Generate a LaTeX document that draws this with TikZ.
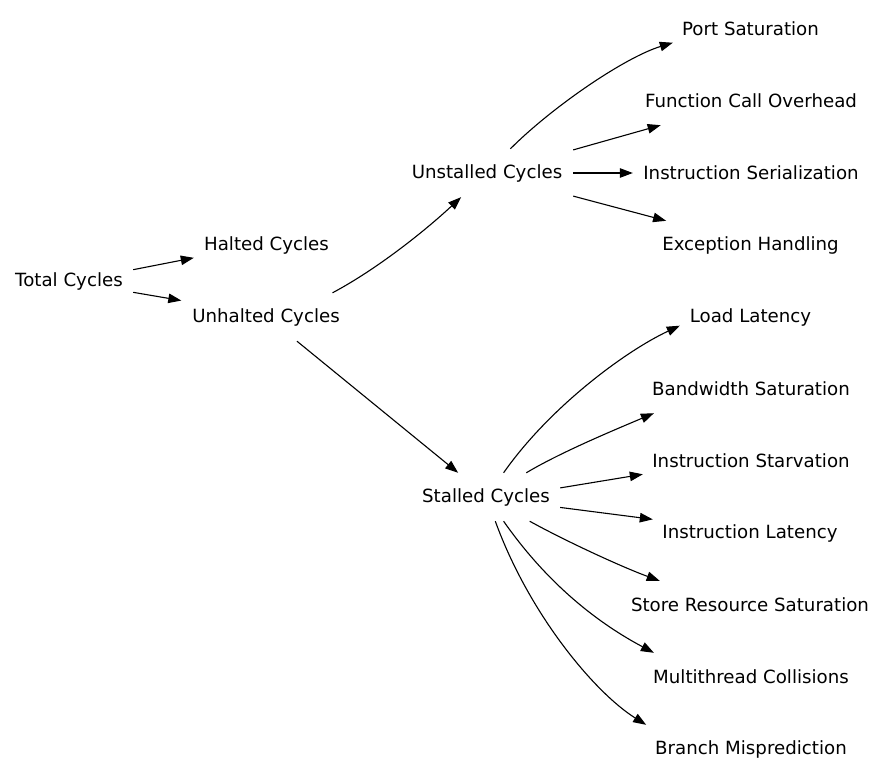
\documentclass[tikz,border=0pt]{standalone}
\usepackage{fontspec}
\setmainfont{DejaVu Sans}
\usetikzlibrary{arrows.meta}
\begin{document}
\begin{tikzpicture}[x=1pt,y=1pt,
  lbl/.style={inner sep=0pt, minimum height=48pt, font=\fontsize{18.2}{21}\selectfont,
    execute at begin node={\lower2pt\hbox\bgroup}, execute at end node={\egroup}},
  edge/.style={line width=1.1pt, -{Triangle[length=13pt,width=9.5pt]}}]
\useasboundingbox (0,0) rectangle (885,-779);
\node[lbl, minimum width=128] (tot) at (69,-281) {Total Cycles};
\node[lbl, minimum width=145] (hal) at (266.5,-245) {Halted Cycles};
\node[lbl, minimum width=169] (unh) at (266,-317) {Unhalted Cycles};
\node[lbl, minimum width=172] (uns) at (487,-173) {Unstalled Cycles};
\node[lbl, minimum width=148] (sta) at (486,-497) {Stalled Cycles};
\node[lbl, minimum width=155] (port) at (750.5,-29) {Port Saturation};
\node[lbl, minimum width=234] (fco) at (751,-101) {Function Call Overhead};
\node[lbl, minimum width=236] (iser) at (751,-173) {Instruction Serialization};
\node[lbl, minimum width=199] (exc) at (750.5,-245) {Exception Handling};
\node[lbl, minimum width=141] (load) at (750.5,-317) {Load Latency};
\node[lbl, minimum width=218] (bw) at (751,-389) {Bandwidth Saturation};
\node[lbl, minimum width=216] (starv) at (751,-461) {Instruction Starvation};
\node[lbl, minimum width=194] (ilat) at (750,-533) {Instruction Latency};
\node[lbl, minimum width=258] (store) at (750,-605) {Store Resource Saturation};
\node[lbl, minimum width=216] (multi) at (751,-677) {Multithread Collisions};
\node[lbl, minimum width=216] (branch) at (751,-749) {Branch Misprediction};

\draw[edge] (tot.10.6) -- (hal.190.3);
\draw[edge] (tot.-10.6) -- (unh.169.8);
\draw[edge] (unh.20.6) .. controls +(28:50) and +(223:50) .. (uns.223.8);
\draw[edge] (unh.-38.9) -- (sta.139.4);
\draw[edge] (uns.46.2) .. controls +(45:60) and +(197:50) .. (port.190.8);
\draw[edge] (uns.15.4) -- (fco.195.3);
\draw[edge] (uns.0) -- (iser.180);
\draw[edge] (uns.-15.4) -- (exc.164);
\draw[edge] (sta.54.7) .. controls +(55:80) and +(205:60) .. (load.187.5);
\draw[edge] (sta.31) .. controls +(31:40) and +(203:40) .. (bw.194.2);
\draw[edge] (sta.7.5) -- (starv.187.9);
\draw[edge] (sta.-8.2) -- (ilat.172.4);
\draw[edge] (sta.-29.9) .. controls +(-29:40) and +(160:40) .. (store.165.1);
\draw[edge] (sta.-54.7) .. controls +(-55:80) and +(152:60) .. (multi.166.6);
\draw[edge] (sta.-69.4) .. controls +(-70:100) and +(148:60) .. (branch.167.9);
\end{tikzpicture}
\end{document}
